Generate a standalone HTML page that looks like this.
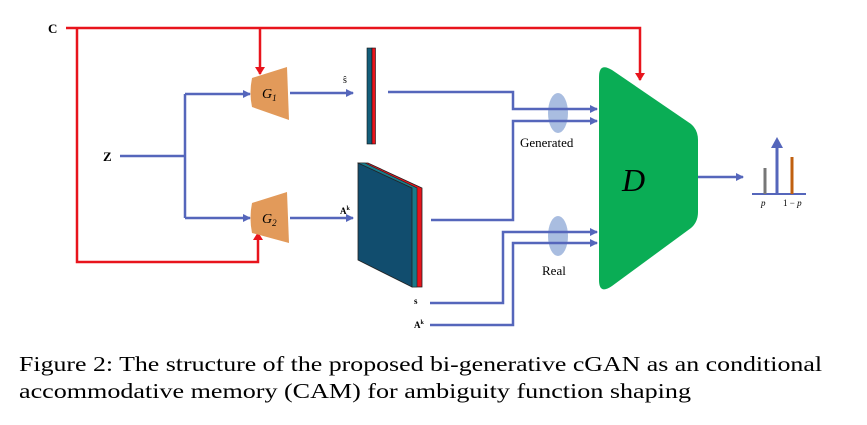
<!DOCTYPE html>
<html><head><meta charset="utf-8"><style>body{margin:0;background:#fff}svg{display:block}</style></head><body>
<svg width="867" height="425" viewBox="0 0 867 425" xmlns="http://www.w3.org/2000/svg" font-family="Liberation Serif, serif">
<defs>
<marker id="bl" markerWidth="8" markerHeight="8" refX="7" refY="4" orient="auto" markerUnits="userSpaceOnUse"><path d="M0,0 L8,4 L0,8 z" fill="#5566bb"/></marker>
<marker id="rd" markerWidth="8" markerHeight="10" refX="7" refY="5" orient="auto" markerUnits="userSpaceOnUse"><path d="M0,0 L8,5 L0,10 z" fill="#e8141c"/></marker>
</defs>
<!-- red conditioning lines -->
<g stroke="#e8141c" stroke-width="2.5" fill="none">
<path d="M66,28 H640 V80" marker-end="url(#rd)"/>
<path d="M260,28 V74" marker-end="url(#rd)"/>
<path d="M77,28 V262 H258 V233" marker-end="url(#rd)"/>
</g>
<!-- ellipses -->
<ellipse cx="558" cy="113" rx="10" ry="20" fill="#a9bde0"/>
<ellipse cx="558" cy="236" rx="10" ry="20" fill="#a9bde0"/>
<!-- blue lines -->
<g stroke="#5566bb" stroke-width="2.5" fill="none">
<path d="M120,156 H185"/>
<path d="M185,94 V218"/>
<path d="M185,94 H250" marker-end="url(#bl)"/>
<path d="M185,218 H250" marker-end="url(#bl)"/>
<path d="M290,93 H353" marker-end="url(#bl)"/>
<path d="M290,218 H353" marker-end="url(#bl)"/>
<path d="M388,92 H513 V109 H597" marker-end="url(#bl)"/>
<path d="M431,220 H513 V121 H597" marker-end="url(#bl)"/>
<path d="M430,303 H503 V232 H597" marker-end="url(#bl)"/>
<path d="M430,325 H513 V243 H597" marker-end="url(#bl)"/>
<path d="M698,177 H743" marker-end="url(#bl)"/>
</g>
<!-- generators -->
<path d="M252,78 L287,67 L289,120 L252,107 Q249,93 252,78 z" fill="#e29a5a"/>
<path d="M252,203 L287,192 L289,243 L252,233 Q249,218 252,203 z" fill="#e29a5a"/>
<text x="262" y="98" font-size="14" font-style="italic">G<tspan font-size="9" dy="3">1</tspan></text>
<text x="262" y="223" font-size="14" font-style="italic">G<tspan font-size="9" dy="3">2</tspan></text>
<!-- thin vector bar -->
<rect x="367" y="48" width="5" height="96" fill="#135e7a" stroke="#111" stroke-width="0.6"/>
<rect x="372" y="48" width="3.5" height="96" fill="#e8141c" stroke="#111" stroke-width="0.6"/>
<text x="343" y="83" font-size="10">ŝ</text>
<!-- block -->
<polygon points="358,163 368,163 422,188 422,287 412,287" fill="#e8141c" stroke="#222" stroke-width="0.8"/>
<polygon points="358,163 365,163 417,188 417,287 412,287" fill="#1a7a8a" stroke="#222" stroke-width="0.6"/>
<polygon points="358,163 412,188 412,287 358,260" fill="#114d6e" stroke="#222" stroke-width="0.8"/>
<text x="340" y="214" font-size="9" font-weight="bold">A<tspan font-size="6" dy="-4">k</tspan></text>
<text x="414" y="304" font-size="9" font-weight="bold">s</text>
<text x="414" y="328" font-size="9" font-weight="bold">A<tspan font-size="6" dy="-4">k</tspan></text>
<!-- Discriminator -->
<path d="M599,77 Q599,62 612,70 L691,124 Q698,130 698,140 L698,212 Q698,222 691,228 L612,286 Q599,295 599,280 z" fill="#0aad55"/>
<text x="622" y="191" font-size="32" font-style="italic">D</text>
<text x="520" y="147" font-size="13">Generated</text>
<text x="542" y="275" font-size="13">Real</text>
<!-- labels -->
<text x="48" y="33" font-size="13" font-weight="bold">C</text>
<text x="103" y="161" font-size="13" font-weight="bold">Z</text>
<!-- output distribution -->
<line x1="752" y1="194" x2="806" y2="194" stroke="#5566bb" stroke-width="2"/>
<line x1="765" y1="168" x2="765" y2="194" stroke="#777" stroke-width="3"/>
<line x1="792" y1="157" x2="792" y2="194" stroke="#c06010" stroke-width="3"/>
<line x1="777" y1="194" x2="777" y2="146" stroke="#5566bb" stroke-width="3"/>
<path d="M771,148 L777,137 L783,148 z" fill="#5566bb"/>
<text x="761" y="206" font-size="9" font-style="italic">p</text>
<text x="783" y="206" font-size="9">1 − <tspan font-style="italic">p</tspan></text>
<!-- caption -->
<text x="19" y="371" font-size="21" textLength="803" lengthAdjust="spacingAndGlyphs">Figure 2: The structure of the proposed bi-generative cGAN as an conditional</text>
<text x="19" y="398" font-size="21" textLength="672" lengthAdjust="spacingAndGlyphs">accommodative memory (CAM) for ambiguity function shaping</text>
</svg>
</body></html>
